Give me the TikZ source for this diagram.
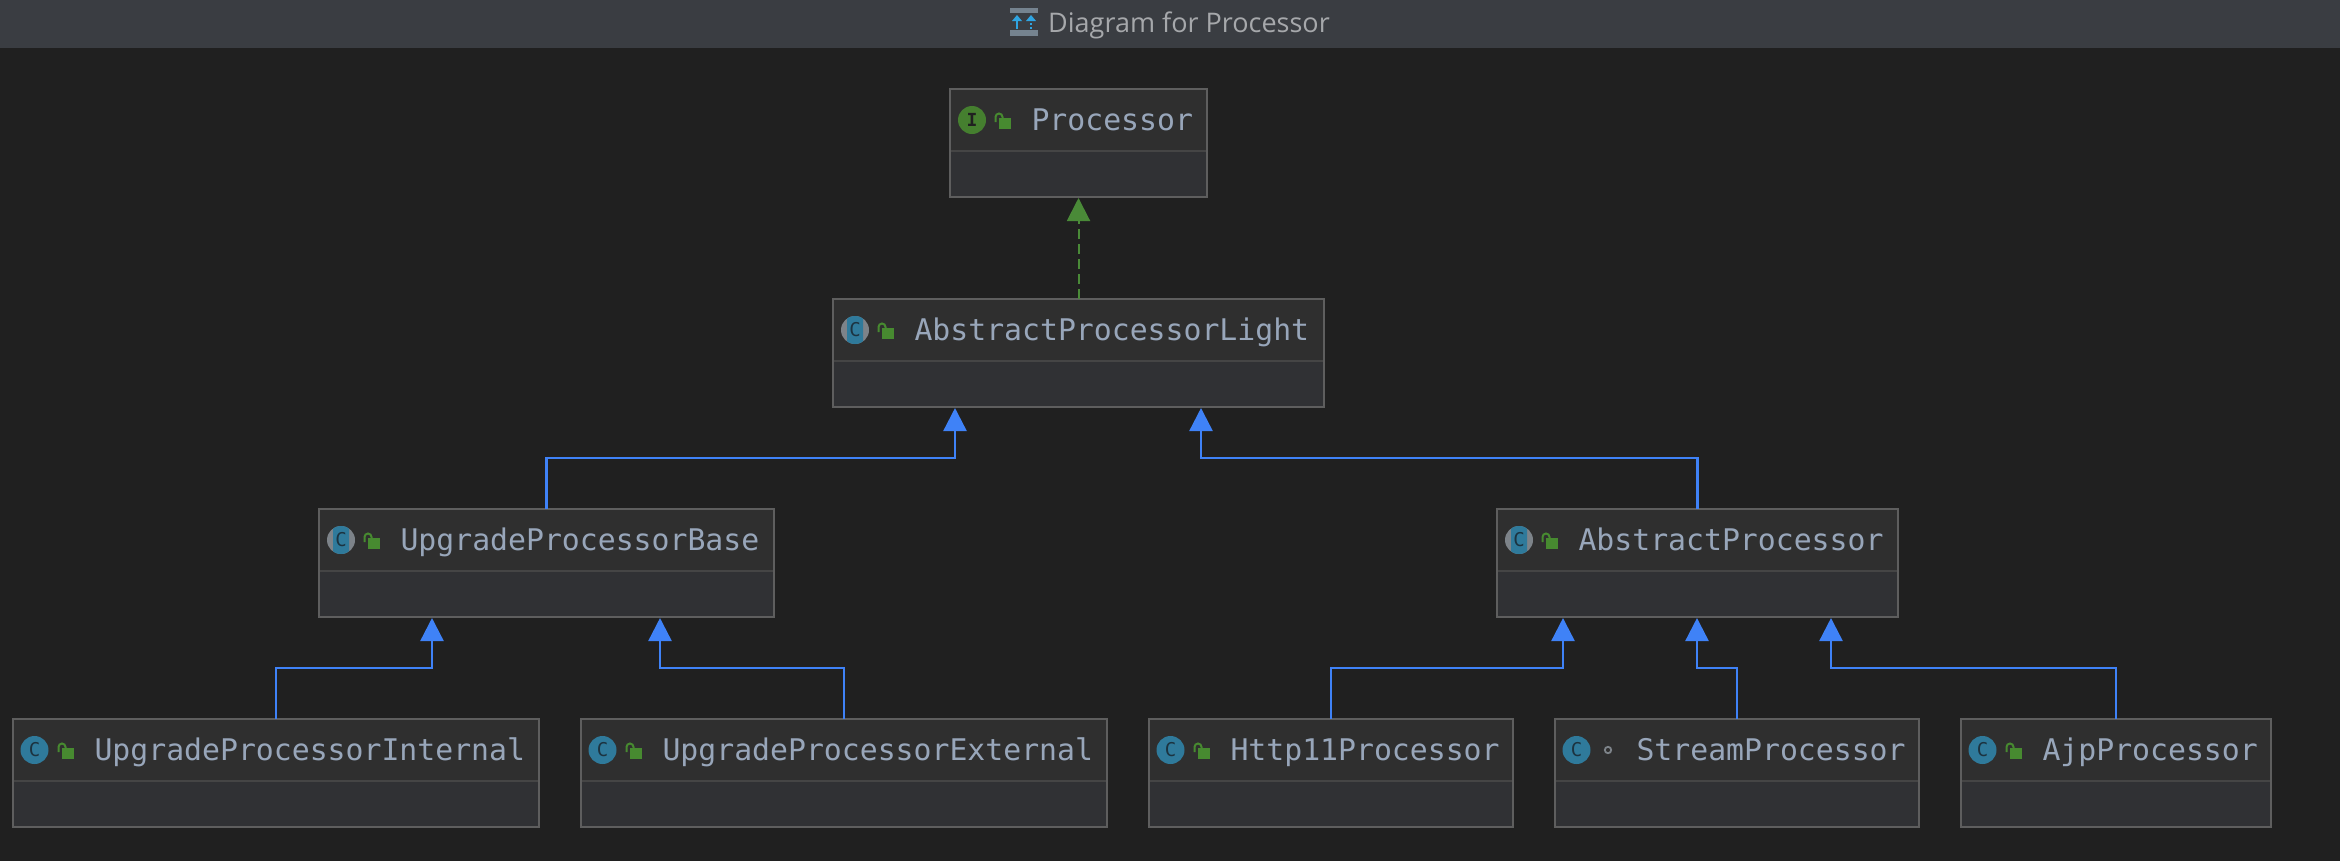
\documentclass[tikz,border=0pt]{standalone}
\usepackage{fontspec}
\setmainfont{Open Sans}
\newfontfamily\monof{DejaVu Sans Mono}
\usetikzlibrary{arrows.meta,calc}
\definecolor{bodybg}{HTML}{202020}
\definecolor{headbg}{HTML}{3A3D42}
\definecolor{titlecol}{HTML}{A6A8AB}
\definecolor{boxtop}{HTML}{2F2F2F}
\definecolor{boxlow}{HTML}{303134}
\definecolor{boxline}{HTML}{5E5E5E}
\definecolor{divline}{HTML}{454545}
\definecolor{nametext}{HTML}{98A6BA}
\definecolor{teal}{HTML}{2F7A9B}
\definecolor{greyring}{HTML}{7D8389}
\definecolor{glyphdark}{HTML}{1C3340}
\definecolor{igreen}{HTML}{457F2F}
\definecolor{lockgreen}{HTML}{478A30}
\definecolor{inherit}{HTML}{3F82F7}
\definecolor{realize}{HTML}{4A8A38}
\definecolor{skyblue}{HTML}{2FA5E2}
\definecolor{iconbar}{HTML}{75838F}
\tikzset{
  x=1pt,y=-1pt,
  boxbase/.style={rectangle,fill=boxlow,inner sep=0pt,outer sep=0pt,minimum height=108pt,anchor=north west},
  boxedge/.style={draw=boxline,line width=2.4pt},
  divider/.style={draw=divline,line width=1.8pt},
  nametxt/.style={anchor=base west,inner sep=0pt,outer sep=0pt,text=nametext,font=\monof\fontsize{29.8}{32}\selectfont},
  glyph/.style={inner sep=0pt,outer sep=0pt,text=glyphdark,font=\monof\fontsize{19}{19}\selectfont},
  inh/.style={draw=inherit,line width=2.4pt,-{Triangle[length=23pt,width=23pt,fill=inherit]},shorten >=1pt},
  rea/.style={draw=realize,line width=2pt,dash pattern=on 10pt off 5pt,-{Triangle[length=23pt,width=23pt,fill=realize,sep=0pt]},shorten >=1pt},
}
% #1 name, #2 left, #3 top, #4 width, #5 text
\newcommand{\classbox}[5]{%
  \node[boxbase,minimum width=#4pt] (#1) at (#2,#3) {};
  \fill[boxtop] (#1.north west) rectangle ($(#1.north east)+(0,62)$);
  \draw[divider] ($(#1.north west)+(0,62)$) -- ($(#1.north east)+(0,62)$);
  \draw[boxedge] (#1.north west) rectangle (#1.south east);
  \node[nametxt] (#1text) at ($(#1.north west)+(81.5,41)$) {#5};
}
\newcommand{\lockicon}[1]{%
  \fill[lockgreen] ($(#1.north west)+(48.5,29)$) rectangle ($(#1.north west)+(60.5,39.5)$);
  \draw[lockgreen,line width=2pt] ($(#1.north west)+(45.5,33)$) -- ($(#1.north west)+(45.5,28)$)
    arc[start angle=180,end angle=0,radius=3.5pt] -- ($(#1.north west)+(52.5,30)$);
}
\newcommand{\ccircle}[1]{%
  \fill[teal] ($(#1.north west)+(21.5,31)$) circle[radius=14pt];
  \node[glyph] (#1icon) at ($(#1.north west)+(21.5,31)$) {C};
}
\newcommand{\acircle}[1]{%
  \fill[greyring] ($(#1.north west)+(22,31)$) circle[radius=14pt];
  \begin{scope}
    \clip ($(#1.north west)+(14,15)$) rectangle ($(#1.north west)+(30,47)$);
    \fill[teal] ($(#1.north west)+(22,31)$) circle[radius=14pt];
  \end{scope}
  \node[glyph] (#1icon) at ($(#1.north west)+(22,31)$) {C};
}
\begin{document}
\begin{tikzpicture}
\useasboundingbox (0,0) rectangle (2340,860);
\fill[bodybg] (-3,-3) rectangle (2343,863);
\fill[headbg] (-3,-3) rectangle (2343,48);
% header icon
\fill[iconbar] (1010,8) rectangle (1038,13);
\fill[iconbar] (1010,30) rectangle (1038,36);
\draw[skyblue,line width=1.5pt] (1017,29) -- (1017,18);
\fill[skyblue] (1012,21) -- (1017,15) -- (1022,21) -- cycle;
\draw[skyblue,line width=1.5pt,dash pattern=on 2pt off 2pt] (1031,29) -- (1031,18);
\fill[skyblue] (1026,21) -- (1031,15) -- (1036,21) -- cycle;
\node[anchor=base west,inner sep=0pt,text=titlecol,font=\fontsize{27}{28}\selectfont] (title) at (1048,32) {Diagram for Processor};

\classbox{proc}{950}{89}{257}{Processor}
\classbox{light}{833}{299}{491}{AbstractProcessorLight}
\classbox{base}{319}{509}{455}{UpgradeProcessorBase}
\classbox{abs}{1497}{509}{401}{AbstractProcessor}
\classbox{int}{13}{719}{526}{UpgradeProcessorInternal}
\classbox{ext}{581}{719}{526}{UpgradeProcessorExternal}
\classbox{http}{1149}{719}{364}{Http11Processor}
\classbox{stream}{1555}{719}{364}{StreamProcessor}
\classbox{ajp}{1961}{719}{310}{AjpProcessor}

% icons
\fill[igreen] ($(proc.north west)+(22,31)$) circle[radius=14pt];
\node[glyph,font=\monof\bfseries\fontsize{18}{18}\selectfont,text=bodybg] (procicon) at ($(proc.north west)+(22,31)$) {I};
\acircle{light}\acircle{base}\acircle{abs}
\ccircle{int}\ccircle{ext}\ccircle{http}\ccircle{stream}\ccircle{ajp}
\lockicon{proc}\lockicon{light}\lockicon{base}\lockicon{abs}
\lockicon{int}\lockicon{ext}\lockicon{http}\lockicon{ajp}
\draw[greyring,line width=1.8pt] ($(stream.north west)+(53,31)$) circle[radius=3.2pt];

% ports on the lower edges
\coordinate (lightL) at ($(light.south west)+(122,0)$);
\coordinate (lightR) at ($(light.south west)+(368,0)$);
\coordinate (baseL) at ($(base.south west)+(113,0)$);
\coordinate (baseR) at ($(base.south west)+(341,0)$);
\coordinate (absL) at ($(abs.south west)+(66,0)$);
\coordinate (absM) at ($(abs.south west)+(200,0)$);
\coordinate (absR) at ($(abs.south west)+(334,0)$);

% connectors
\draw[rea] (light.north -| proc.south) -- (proc.south);
\draw[inh] (base.north) |- ($(lightL)+(0,51)$) -- (lightL);
\draw[inh] (abs.north) |- ($(lightR)+(0,51)$) -- (lightR);
\draw[inh] (int.north) |- ($(baseL)+(0,51)$) -- (baseL);
\draw[inh] (ext.north) |- ($(baseR)+(0,51)$) -- (baseR);
\draw[inh] (http.north) |- ($(absL)+(0,51)$) -- (absL);
\draw[inh] (stream.north) |- ($(absM)+(0,51)$) -- (absM);
\draw[inh] (ajp.north) |- ($(absR)+(0,51)$) -- (absR);
\end{tikzpicture}
\end{document}
